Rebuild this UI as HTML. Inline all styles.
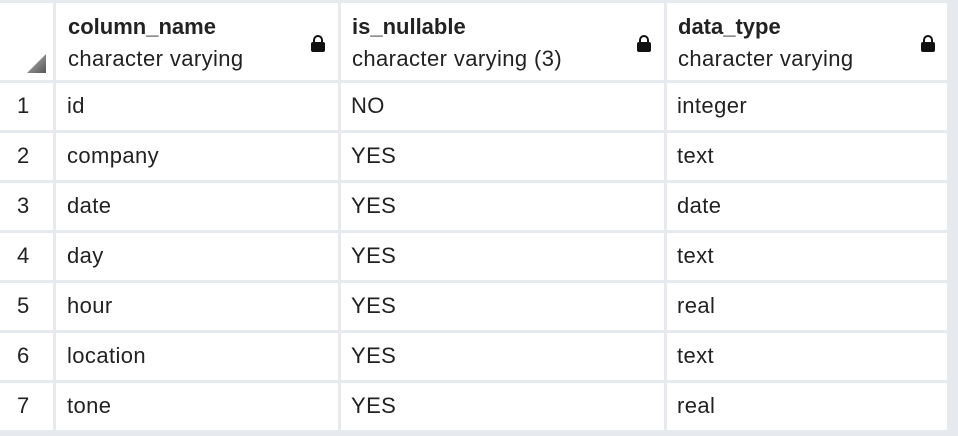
<!DOCTYPE html>
<html><head><style>
body{margin:0;width:958px;height:436px;background:#e6e9ed;position:relative;overflow:hidden;font-family:"Liberation Sans",Arial,sans-serif;color:#222;}
.c{position:absolute;background:#fff;box-sizing:border-box;font-size:22px;}
.t{position:absolute;white-space:nowrap;}
.r{letter-spacing:0.4px}
.lock{position:absolute;width:14px;height:10px;background:#111;border-radius:2px;}
.lock:before{content:"";position:absolute;left:2px;top:-7px;width:6px;height:7px;border:2px solid #111;border-bottom:none;border-radius:5px 5px 0 0;}
</style></head><body>
<div class="c" style="left:0;top:3px;width:53px;height:77px">
<svg style="position:absolute;left:27px;top:51px" width="19" height="19"><defs><linearGradient id="g" x1="0" y1="0" x2="1" y2="1"><stop offset="0" stop-color="#bbb"/><stop offset="1" stop-color="#555"/></linearGradient></defs><polygon points="19,0 19,19 0,19" fill="url(#g)"/></svg></div>
<div class="c" style="left:56px;top:3px;width:282px;height:77px"><div class="t" style="left:12px;top:11px;font-weight:bold">column_name</div><div class="t r" style="left:12px;top:43px">character varying</div><div class="lock" style="left:255px;top:39px"></div></div>
<div class="c" style="left:341px;top:3px;width:323px;height:77px"><div class="t" style="left:11px;top:11px;font-weight:bold">is_nullable</div><div class="t r" style="left:11px;top:43px">character varying (3)</div><div class="lock" style="left:296px;top:39px"></div></div>
<div class="c" style="left:667px;top:3px;width:280px;height:77px"><div class="t" style="left:11px;top:11px;font-weight:bold">data_type</div><div class="t r" style="left:11px;top:43px">character varying</div><div class="lock" style="left:254px;top:39px"></div></div>
<div id="rows"></div>
<script>
var d=[["id","NO","integer"],["company","YES","text"],["date","YES","date"],["day","YES","text"],["hour","YES","real"],["location","YES","text"],["tone","YES","real"]];
var h="";
d.forEach(function(r,i){var y=83+50*i;
h+='<div class="c" style="left:0;top:'+y+'px;width:53px;height:47px"><div class="t" style="left:17px;top:10px">'+(i+1)+'</div></div>';
h+='<div class="c" style="left:56px;top:'+y+'px;width:282px;height:47px"><div class="t r" style="left:11px;top:10px">'+r[0]+'</div></div>';
h+='<div class="c" style="left:341px;top:'+y+'px;width:323px;height:47px"><div class="t r" style="left:10px;top:10px">'+r[1]+'</div></div>';
h+='<div class="c" style="left:667px;top:'+y+'px;width:280px;height:47px"><div class="t r" style="left:10px;top:10px">'+r[2]+'</div></div>';});
document.getElementById("rows").innerHTML=h;
</script>
</body></html>
